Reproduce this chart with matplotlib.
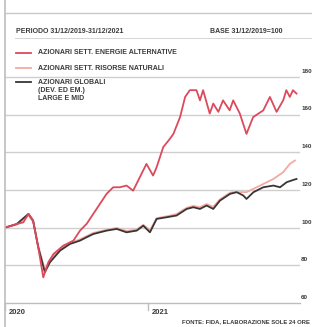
import matplotlib
matplotlib.use("Agg")
import matplotlib.pyplot as plt
import pandas as pd
from matplotlib.lines import Line2D

plt.rcParams['font.family'] = ['Liberation Sans', 'DejaVu Sans']

base_date = "2019-12-31"
series_names = ["AZIONARI SETT. ENERGIE ALTERNATIVE",
                "AZIONARI SETT. RISORSE NATURALI",
                "AZIONARI GLOBALI\n(DEV. ED EM.)\nLARGE E MID"]
header_left = "PERIODO 31/12/2019-31/12/2021"
header_right = "BASE 31/12/2019=100"
source = "FONTE: FIDA, ELABORAZIONE SOLE 24 ORE"
yticks = [60, 80, 100, 120, 140, 160, 180]
xtick_labels = ["2020", "2021"]
xtick_dates = ["2020-01-01", "2021-01-01"]

red_days = [0, 30, 47, 60, 72, 85, 98, 111, 124, 149, 175, 192, 209, 226, 243, 260,
            277, 294, 311, 328, 345, 362, 379, 388, 405, 422, 431, 448, 461, 473,
            490, 499, 507, 524, 533, 546, 558, 575, 584, 601, 618, 635, 661, 678,
            695, 712, 720, 729, 737, 746]
red_vals = [100, 101.9, 102.8, 107.3, 103.7, 89.6, 73.6, 81.6, 86.0, 90.4, 93.1, 98.4,
            102.0, 107.3, 112.6, 117.9, 121.4, 121.4, 122.3, 119.6, 126.7, 133.8,
            127.6, 132.0, 142.7, 147.1, 149.7, 158.6, 169.3, 172.9, 172.9, 167.5,
            172.9, 160.5, 165.8, 161.4, 167.5, 162.2, 167.5, 160.5, 149.7, 158.6,
            162.2, 169.3, 161.4, 167.5, 172.9, 169.3, 172.9, 171.1]

black_days = [0, 30, 60, 72, 85, 102, 115, 141, 166, 192, 209, 226, 243, 260, 286,
              311, 337, 354, 371, 388, 414, 439, 465, 482, 499, 516, 533, 550, 576,
              593, 610, 618, 636, 661, 687, 704, 721, 738, 746]
black_vals = [100, 101.9, 107.3, 103.7, 89.6, 76.3, 81.6, 87.8, 91.3, 93.1, 94.9,
              96.6, 97.5, 98.4, 99.3, 97.5, 98.4, 101.0, 97.5, 104.6, 105.5, 106.4,
              109.9, 110.8, 109.9, 111.7, 109.9, 114.3, 117.9, 118.8, 117.0, 115.2,
              118.8, 121.4, 122.3, 121.4, 124.1, 125.3, 125.8]

pink_days = [0, 30, 60, 72, 85, 102, 115, 141, 166, 192, 209, 226, 243, 260, 286,
             311, 337, 354, 371, 388, 414, 439, 465, 482, 499, 516, 533, 550, 576,
             584, 618, 653, 687, 712, 729, 742]
pink_vals = [100, 101.5, 106.5, 103.0, 90.5, 77.5, 83.0, 88.5, 91.8, 93.8, 95.5,
             97.2, 98.0, 98.8, 99.8, 98.2, 99.0, 101.5, 98.5, 105.0, 106.0, 107.2,
             110.5, 111.5, 110.8, 112.5, 111.0, 115.0, 118.5, 118.8, 118.8, 122.3,
             125.8, 129.4, 133.8, 135.6]

colors = ["#dc4a5c", "#f2aaa2", "#3a3535"]
grid_col = "#cfcfcf"
text_col = "#3a3a3a"

W, H = 312, 327
fig = plt.figure(figsize=(W / 100, H / 100), dpi=100)

def fx(px):
    return px / W

def fy(py):
    return 1 - py / H

b0 = pd.Timestamp(base_date)
def to_dates(days):
    return b0 + pd.to_timedelta(days, unit="D")

ax_left, ax_right, ax_top, ax_bottom = 5, 300, 40, 303
ax = fig.add_axes([fx(ax_left), fy(ax_bottom), fx(ax_right - ax_left), (ax_bottom - ax_top) / H])
ymax = 60 + (ax_bottom - ax_top) / 37.7 * 20
ax.set_ylim(60, ymax)
ax.set_xlim(b0, b0 + pd.Timedelta(days=755))
for v in yticks[1:]:
    ax.axhline(v, color=grid_col, lw=1.0, zorder=1)
for s in ["top", "right", "left"]:
    ax.spines[s].set_visible(False)
ax.spines["bottom"].set_color("#bdbdbd")
ax.spines["bottom"].set_linewidth(1.0)
ax.set_yticks([])
ax.set_xticks([])
ax.patch.set_alpha(0)

ax.plot(to_dates(pink_days), pink_vals, color=colors[1], lw=1.3, zorder=3)
ax.plot(to_dates(black_days), black_vals, color=colors[2], lw=1.3, zorder=4)
ax.plot(to_dates(red_days), red_vals, color=colors[0], lw=1.3, zorder=5)

# right labels
for v in yticks:
    ax.annotate(str(v), xy=(1, v), xycoords=("axes fraction", "data"),
                xytext=(0.8, 2.2), textcoords="offset points", ha="left", va="bottom",
                fontsize=4.5, fontweight="bold", color=text_col, annotation_clip=False)

# x labels and ticks
for lab, d in zip(xtick_labels, xtick_dates):
    t = pd.Timestamp(d)
    ax.annotate(lab, xy=(t, 0), xycoords=("data", "axes fraction"),
                xytext=(2.5, -4), textcoords="offset points", ha="left", va="top",
                fontsize=5.5, fontweight="bold", color=text_col, annotation_clip=False)
    ax.plot([t, t], [0, -0.025], transform=ax.get_xaxis_transform(), color="#bdbdbd",
            lw=1, clip_on=False)

# frame lines
fig.add_artist(Line2D([fx(5), fx(5)], [0, 1], color="#bdbdbd", lw=1.2))
fig.add_artist(Line2D([fx(5), 1], [fy(13), fy(13)], color="#c8c8c8", lw=1.0))
fig.add_artist(Line2D([fx(15), 1], [fy(38), fy(38)], color="#d5d5d5", lw=0.7))

fig.text(fx(16), fy(33), header_left, fontsize=5, fontweight="bold", color=text_col,
         ha="left", va="baseline")
fig.text(fx(210), fy(33), header_right, fontsize=5, fontweight="bold", color=text_col,
         ha="left", va="baseline")

# legend
leg_y = [53, 68, 82]
for name, c, y in zip(series_names, colors, leg_y):
    fig.add_artist(Line2D([fx(16), fx(31)], [fy(y), fy(y)], color=c, lw=1.3))
    if "\n" in name:
        fig.text(fx(38), fy(y - 3.5), name, fontsize=5, fontweight="bold", color=text_col,
                 ha="left", va="top", linespacing=1.25)
    else:
        fig.text(fx(38), fy(y), name, fontsize=5, fontweight="bold", color=text_col,
                 ha="left", va="center")

fig.text(fx(310), fy(323), source, fontsize=4.2, fontweight="bold", color=text_col,
         ha="right", va="baseline")

fig.savefig("out.png", dpi=100)
